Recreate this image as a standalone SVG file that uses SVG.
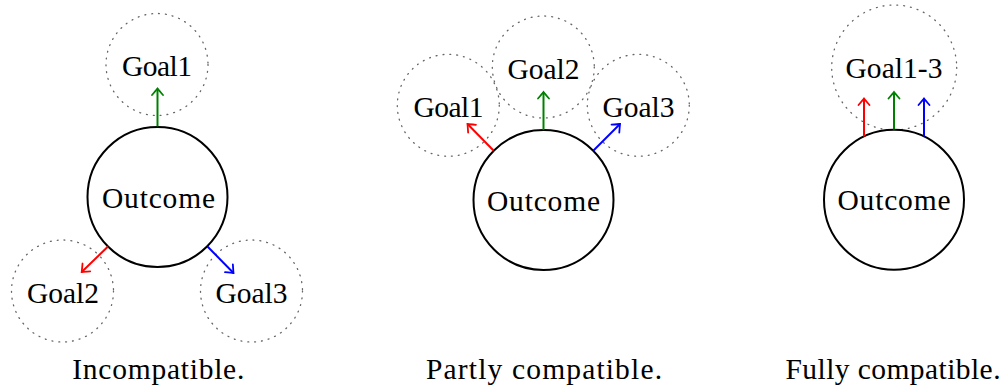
<svg xmlns="http://www.w3.org/2000/svg" width="1005" height="387" viewBox="0 0 1005 387">
<style>
text{font-family:'Liberation Serif','Times New Roman','DejaVu Serif',serif;font-size:29.5px;fill:#000;text-anchor:middle}
.goal{fill:none;stroke:#666;stroke-width:1.3;stroke-dasharray:0.9 6;stroke-linecap:round}
.out{fill:#fff;stroke:#000;stroke-width:2}
.a{fill:none;stroke-width:2}
.r{stroke:#ff0000}.g{stroke:#008000}.b{stroke:#0000ff}
</style>
<defs>
<marker id="mr" markerUnits="userSpaceOnUse" markerWidth="16" markerHeight="16" viewBox="-8 -8 16 16" refX="0" refY="0" orient="auto" overflow="visible"><path d="M-6.5,-5.5 Q-1.5,-1.2 0,0 Q-1.5,1.2 -6.5,5.5" fill="none" stroke="#ff0000" stroke-width="1.8" stroke-linecap="round"/></marker>
<marker id="mg" markerUnits="userSpaceOnUse" markerWidth="16" markerHeight="16" viewBox="-8 -8 16 16" refX="0" refY="0" orient="auto" overflow="visible"><path d="M-6.5,-5.5 Q-1.5,-1.2 0,0 Q-1.5,1.2 -6.5,5.5" fill="none" stroke="#008000" stroke-width="1.8" stroke-linecap="round"/></marker>
<marker id="mb" markerUnits="userSpaceOnUse" markerWidth="16" markerHeight="16" viewBox="-8 -8 16 16" refX="0" refY="0" orient="auto" overflow="visible"><path d="M-6.5,-5.5 Q-1.5,-1.2 0,0 Q-1.5,1.2 -6.5,5.5" fill="none" stroke="#0000ff" stroke-width="1.8" stroke-linecap="round"/></marker>
</defs>
<rect width="1005" height="387" fill="#fff"/>

<!-- Panel 1 -->
<g id="p1-goal1"><circle class="goal" cx="157" cy="64.5" r="51"/><text x="157" y="76" textLength="70">Goal1</text></g>
<g id="p1-goal2"><circle class="goal" cx="62.5" cy="291" r="51"/><text x="63" y="302.5" textLength="72">Goal2</text></g>
<g id="p1-goal3"><circle class="goal" cx="251.5" cy="291" r="51"/><text x="251.5" y="302.5" textLength="72">Goal3</text></g>
<g id="p1-outcome"><circle class="out" cx="157.5" cy="197" r="70"/><text x="158.5" y="207.5" textLength="113">Outcome</text></g>

<!-- Panel 2 -->
<g id="p2-goal1"><circle class="goal" cx="448.3" cy="105.3" r="51"/><text x="448.5" y="116.5" textLength="70">Goal1</text></g>
<g id="p2-goal2"><circle class="goal" cx="543.3" cy="67" r="51"/><text x="543.5" y="78.5" textLength="72">Goal2</text></g>
<g id="p2-goal3"><circle class="goal" cx="638.3" cy="105.3" r="51"/><text x="638.5" y="116.5" textLength="72">Goal3</text></g>
<g id="p2-outcome"><circle class="out" cx="543.5" cy="200" r="70"/><text x="543.5" y="210.5" textLength="113">Outcome</text></g>

<!-- Panel 3 -->
<g id="p3-goals"><circle class="goal" cx="894.2" cy="67.5" r="62.5"/><text x="894" y="77.5" textLength="97">Goal1-3</text></g>
<g id="p3-outcome"><circle class="out" cx="894" cy="199.7" r="70"/><text x="894" y="210" textLength="113">Outcome</text></g>

<g id="connectors">
<line class="a g" x1="157.5" y1="126.5" x2="157.5" y2="88.5" marker-end="url(#mg)"/>
<line class="a r" x1="108" y1="246.5" x2="81.7" y2="272" marker-end="url(#mr)"/>
<line class="a b" x1="207.5" y1="246.5" x2="233.5" y2="273" marker-end="url(#mb)"/>

<line class="a g" x1="543.5" y1="130" x2="543.5" y2="92" marker-end="url(#mg)"/>
<line class="a r" x1="493.5" y1="150.5" x2="467.5" y2="124" marker-end="url(#mr)"/>
<line class="a b" x1="593.5" y1="150.5" x2="620" y2="124" marker-end="url(#mb)"/>

<line class="a r" x1="864" y1="136.5" x2="864" y2="98.5" marker-end="url(#mr)"/>
<line class="a g" x1="894" y1="129.5" x2="894" y2="92" marker-end="url(#mg)"/>
<line class="a b" x1="924" y1="136.5" x2="924" y2="98.5" marker-end="url(#mb)"/>
</g>

<g id="captions">
<text x="158.3" y="378.5" textLength="172">Incompatible.</text>
<text x="544" y="378.5" textLength="236">Partly compatible.</text>
<text x="893" y="378.5" textLength="215">Fully compatible.</text>
</g>
</svg>
